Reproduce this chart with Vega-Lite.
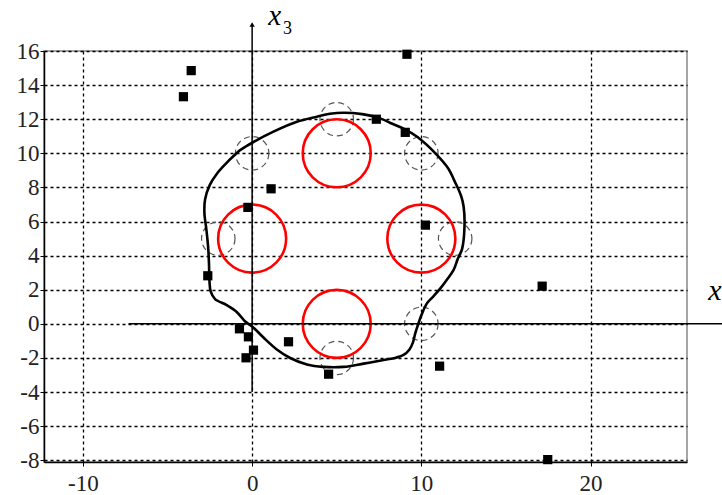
{
  "$schema": "https://vega.github.io/schema/vega-lite/v6.json",
  "width": 643,
  "height": 411,
  "autosize": {"type": "none"},
  "padding": {"left": 44, "top": 51, "right": 35, "bottom": 33},
  "background": "white",
  "config": {
    "view": {"stroke": "#888", "strokeWidth": 1.5},
    "axis": {
      "domainColor": "#000",
      "domainWidth": 1.5,
      "tickColor": "#000",
      "tickSize": 4,
      "grid": true,
      "gridColor": "#000",
      "gridDash": [3, 3],
      "gridWidth": 1.3,
      "gridOpacity": 1,
      "title": null,
      "labelOverlap": false,
      "labelSeparation": 0,
      "labelBound": false,
      "labelFlush": false
    }
  },
  "datasets": {
    "dashed": [
      {"x": 0, "y": 10}, {"x": 5, "y": 12}, {"x": 10, "y": 10},
      {"x": -2, "y": 5}, {"x": 12, "y": 5}, {"x": 5, "y": -2}, {"x": 10, "y": 0}
    ],
    "red": [
      {"x": 0, "y": 5}, {"x": 5, "y": 10}, {"x": 10, "y": 5}, {"x": 5, "y": 0}
    ],
    "curve": [
      {"i": 1, "x": -0.71, "y": 10.19},
      {"i": 2, "x": 0, "y": 10.62},
      {"i": 3, "x": 1.26, "y": 11.27},
      {"i": 4, "x": 2.64, "y": 11.85},
      {"i": 5, "x": 3.83, "y": 12.15},
      {"i": 6, "x": 4.6, "y": 12.32},
      {"i": 7, "x": 5.4, "y": 12.38},
      {"i": 8, "x": 6.5, "y": 12.3},
      {"i": 9, "x": 7.57, "y": 12.05},
      {"i": 10, "x": 8.17, "y": 11.78},
      {"i": 11, "x": 8.95, "y": 11.45},
      {"i": 12, "x": 9.75, "y": 10.97},
      {"i": 13, "x": 10.93, "y": 9.9},
      {"i": 14, "x": 11.6, "y": 9.1},
      {"i": 15, "x": 11.95, "y": 8.4},
      {"i": 16, "x": 12.35, "y": 7.5},
      {"i": 17, "x": 12.5, "y": 6.87},
      {"i": 18, "x": 12.55, "y": 5.69},
      {"i": 19, "x": 12.41, "y": 4.4},
      {"i": 20, "x": 12.15, "y": 3.8},
      {"i": 21, "x": 11.9, "y": 3.15},
      {"i": 22, "x": 11.52, "y": 2.6},
      {"i": 23, "x": 11.1, "y": 2.05},
      {"i": 24, "x": 10.7, "y": 1.6},
      {"i": 25, "x": 10.33, "y": 1.2},
      {"i": 26, "x": 10.0, "y": 0.5},
      {"i": 27, "x": 9.82, "y": 0.0},
      {"i": 28, "x": 9.64, "y": -0.56},
      {"i": 29, "x": 9.5, "y": -1.1},
      {"i": 30, "x": 9.3, "y": -1.5},
      {"i": 31, "x": 8.95, "y": -1.82},
      {"i": 32, "x": 8.5, "y": -1.98},
      {"i": 33, "x": 7.77, "y": -2.12},
      {"i": 34, "x": 6.59, "y": -2.33},
      {"i": 35, "x": 5.4, "y": -2.52},
      {"i": 36, "x": 4.22, "y": -2.52},
      {"i": 37, "x": 3.24, "y": -2.38},
      {"i": 38, "x": 2.25, "y": -2.0},
      {"i": 39, "x": 1.46, "y": -1.5},
      {"i": 40, "x": 0.67, "y": -0.8},
      {"i": 41, "x": 0, "y": -0.15},
      {"i": 42, "x": -0.41, "y": 0.14},
      {"i": 43, "x": -0.91, "y": 0.7},
      {"i": 44, "x": -1.5, "y": 1.1},
      {"i": 45, "x": -2.19, "y": 1.45},
      {"i": 46, "x": -2.45, "y": 1.9},
      {"i": 47, "x": -2.52, "y": 2.5},
      {"i": 48, "x": -2.55, "y": 3.54},
      {"i": 49, "x": -2.6, "y": 4.5},
      {"i": 50, "x": -2.7, "y": 5.5},
      {"i": 51, "x": -2.82, "y": 6.5},
      {"i": 52, "x": -2.78, "y": 7.3},
      {"i": 53, "x": -2.5, "y": 8.15},
      {"i": 54, "x": -2.05, "y": 8.85},
      {"i": 55, "x": -1.45, "y": 9.5},
      {"i": 56, "x": -0.71, "y": 10.19}
    ],
    "squares": [
      {"x": -3.6, "y": 14.85}, {"x": -4.06, "y": 13.32}, {"x": 1.12, "y": 7.92},
      {"x": -0.25, "y": 6.83}, {"x": 9.15, "y": 15.81}, {"x": 7.34, "y": 12.0},
      {"x": 9.05, "y": 11.23}, {"x": 10.24, "y": 5.79}, {"x": -2.62, "y": 2.82},
      {"x": -0.75, "y": -0.29}, {"x": -0.22, "y": -0.76}, {"x": 0.08, "y": -1.54},
      {"x": -0.36, "y": -1.99}, {"x": 2.15, "y": -1.05}, {"x": 4.52, "y": -2.95},
      {"x": 11.08, "y": -2.48}, {"x": 17.14, "y": 2.21}, {"x": 17.47, "y": -7.96}
    ]
  },
  "layer": [
    {
      "data": {"name": "dashed"},
      "mark": {"type": "point", "shape": "circle", "filled": false, "size": 1122, "stroke": "#555", "strokeWidth": 1.2, "strokeDash": [6, 4], "opacity": 1},
      "encoding": {
        "x": {"field": "x", "type": "quantitative",
          "scale": {"domain": [-12.3, 25.7], "nice": false, "zero": false},
          "axis": {"values": [-10, 0, 10, 20], "labelPadding": 6, "labelFont": "Liberation Serif", "labelFontSize": 23, "labelColor": "#222", "labelOverlap": false, "labelExpr": "'' + datum.value"}},
        "y": {"field": "y", "type": "quantitative",
          "scale": {"domain": [-8.1, 16], "nice": false, "zero": false},
          "axis": {"values": [-8, -6, -4, -2, 0, 2, 4, 6, 8, 10, 12, 14, 16], "tickCount": 13, "labelPadding": 1, "labelFont": "Liberation Serif", "labelFontSize": 23, "labelColor": "#222", "labelOverlap": false, "labelExpr": "'' + datum.value"}}
      }
    },
    {
      "data": {"name": "red"},
      "mark": {"type": "point", "shape": "circle", "filled": false, "size": 4624, "stroke": "#ff0000", "strokeWidth": 2.6, "opacity": 1},
      "encoding": {
        "x": {"field": "x", "type": "quantitative"},
        "y": {"field": "y", "type": "quantitative"}
      }
    },
    {
      "data": {"name": "curve"},
      "mark": {"type": "line", "color": "#000", "strokeWidth": 2.6, "interpolate": "catmull-rom"},
      "encoding": {
        "x": {"field": "x", "type": "quantitative"},
        "y": {"field": "y", "type": "quantitative"},
        "order": {"field": "i", "type": "quantitative"}
      }
    },
    {
      "data": {"values": [{}]},
      "mark": {"type": "rule", "color": "#000", "strokeWidth": 1.5},
      "encoding": {
        "x": {"datum": 0, "type": "quantitative"},
        "y": {"datum": -4, "type": "quantitative"},
        "y2": {"datum": 17.6}
      }
    },
    {
      "data": {"values": [{}]},
      "mark": {"type": "rule", "color": "#000", "strokeWidth": 1.5},
      "encoding": {
        "x": {"datum": -7.3, "type": "quantitative"},
        "x2": {"datum": 28},
        "y": {"datum": 0, "type": "quantitative"}
      }
    },
    {
      "data": {"values": [{}]},
      "mark": {"type": "point", "shape": "triangle-up", "filled": true, "color": "#000", "size": 28, "opacity": 1},
      "encoding": {
        "x": {"datum": 0, "type": "quantitative"},
        "y": {"datum": 17.55, "type": "quantitative"}
      }
    },
    {
      "data": {"name": "squares"},
      "mark": {"type": "square", "filled": true, "color": "#000", "size": 85, "opacity": 1},
      "encoding": {
        "x": {"field": "x", "type": "quantitative"},
        "y": {"field": "y", "type": "quantitative"}
      }
    },
    {
      "data": {"values": [{}]},
      "mark": {"type": "text", "text": "x", "font": "Liberation Serif", "fontStyle": "italic", "fontSize": 29, "align": "left", "baseline": "alphabetic", "color": "#000"},
      "encoding": {
        "x": {"datum": 0.95, "type": "quantitative"},
        "y": {"datum": 17.52, "type": "quantitative"}
      }
    },
    {
      "data": {"values": [{}]},
      "mark": {"type": "text", "text": "3", "font": "Liberation Serif", "fontSize": 18, "align": "left", "baseline": "alphabetic", "color": "#000"},
      "encoding": {
        "x": {"datum": 1.83, "type": "quantitative"},
        "y": {"datum": 16.99, "type": "quantitative"}
      }
    },
    {
      "data": {"values": [{}]},
      "mark": {"type": "text", "text": "x", "font": "Liberation Serif", "fontStyle": "italic", "fontSize": 30, "align": "left", "baseline": "alphabetic", "color": "#000"},
      "encoding": {
        "x": {"datum": 26.95, "type": "quantitative"},
        "y": {"datum": 1.39, "type": "quantitative"}
      }
    }
  ]
}
